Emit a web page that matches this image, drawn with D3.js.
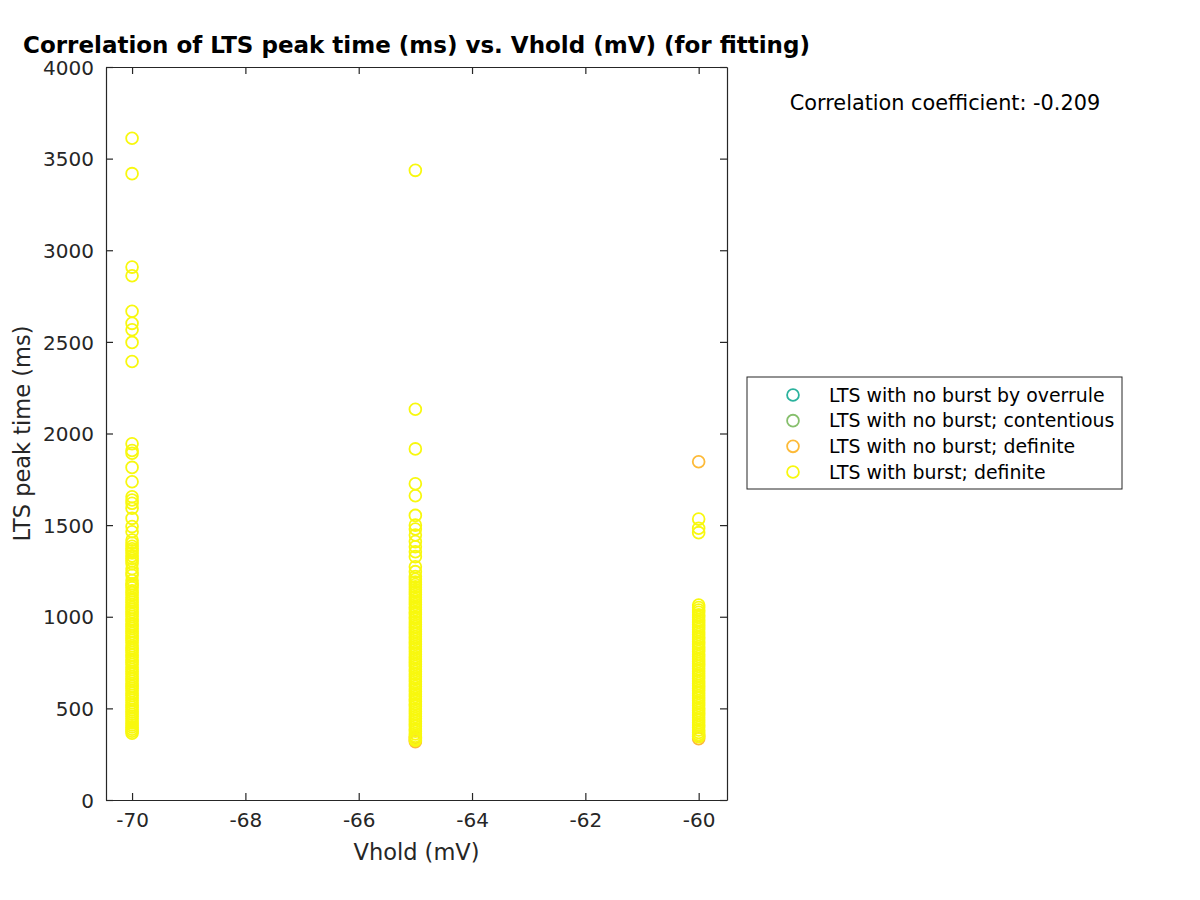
<!DOCTYPE html>
<html>
<head>
<meta charset="utf-8">
<script src="https://cdn.jsdelivr.net/npm/d3@7"></script>
<style>
  body { margin: 0; background: #fff; }
  text { font-family: "DejaVu Sans", sans-serif; }
</style>
</head>
<body>
<div id="chart"></div>
<script>
// LTS peak time vs holding potential

const seriesNames = [
  "LTS with no burst by overrule",
  "LTS with no burst; contentious",
  "LTS with no burst; definite",
  "LTS with burst; definite",
];
const seriesColors = ["#2bb29d", "#86bf6c", "#fdba38", "#f8f80e"];

const xTicks = [-70, -68, -66, -64, -62, -60];
const yTicks = [0, 500, 1000, 1500, 2000, 2500, 3000, 3500, 4000];

// peak times (ms) per series and Vhold
const overruleAt70 = [];
const overruleAt65 = [];
const overruleAt60 = [];
const contentiousAt70 = [];
const contentiousAt65 = [];
const contentiousAt60 = [];
const noBurstAt70 = [];
const noBurstAt65 = [318, 328, 341];
const noBurstAt60 = [1846, 334, 348];
const burstAt70 = [
  3611, 3418, 2908, 2861, 2667, 2601, 2566, 2497, 2393,
  1944, 1907, 1892, 1815, 1737, 1655, 1637, 1619, 1592, 1537, 1492, 1464, 1419,
  1402, 1385, 1371, 1360, 1348, 1332, 1318, 1305, 1290, 1262, 1241, 1226, 1198,
  1180, 1171, 1158, 1142, 1131, 1119, 1104, 1092, 1080, 1066, 1051, 1040, 1027,
  1013, 1001, 988, 975, 961, 948, 936, 921, 909, 896, 883, 871, 858, 842, 830,
  817, 805, 791, 778, 764, 752, 739, 725, 712, 700, 688, 673, 661, 648, 634, 621,
  609, 596, 583, 570, 557, 545, 531, 518, 506, 493, 481, 468, 455, 443, 431, 420,
  409, 398, 386, 375, 364,
];
const burstAt65 = [
  3436, 2132, 1916, 1726, 1660, 1553, 1500, 1479, 1446, 1410, 1382, 1355, 1328,
  1273, 1246, 1219, 1204, 1190, 1176, 1163, 1148, 1135, 1121, 1108, 1094, 1081,
  1067, 1053, 1040, 1026, 1013, 999, 986, 972, 958, 945, 931, 918, 904, 891, 877,
  863, 850, 836, 823, 809, 796, 782, 768, 755, 741, 728, 714, 701, 687, 673, 660,
  646, 633, 619, 606, 592, 578, 565, 551, 538, 524, 511, 497, 483, 470, 456, 443,
  429, 416, 402, 388, 375, 361, 348, 336, 327,
];
const burstAt60 = [
  1533, 1483, 1459,
  1064, 1050, 1037, 1024, 1010, 997, 983, 970, 957, 943, 930, 917, 903, 890, 877,
  863, 850, 836, 823, 810, 796, 783, 770, 756, 743, 730, 716, 703, 689, 676, 663,
  649, 636, 623, 609, 596, 583, 569, 556, 542, 529, 516, 502, 489, 476, 462, 449,
  436, 422, 409, 396, 382, 369, 357, 345,
];

const seriesData = [
  [[-70, overruleAt70], [-65, overruleAt65], [-60, overruleAt60]],
  [[-70, contentiousAt70], [-65, contentiousAt65], [-60, contentiousAt60]],
  [[-70, noBurstAt70], [-65, noBurstAt65], [-60, noBurstAt60]],
  [[-70, burstAt70], [-65, burstAt65], [-60, burstAt60]],
];

const correlationText = "Correlation coefficient: -0.209";
const titleText = "Correlation of LTS peak time (ms) vs. Vhold (mV) (for fitting)";

const width = 1200;
const height = 900;
const plot = { left: 106, right: 727, top: 67, bottom: 800 };
const axisColor = "#262626";
const fmt = (d) => String(d); // plain hyphen, no thousands separator

const svg = d3
  .select("#chart")
  .append("svg")
  .attr("width", width)
  .attr("height", height);

const x = d3.scaleLinear().domain([-70.46, -59.5]).range([plot.left, plot.right]);
const y = d3.scaleLinear().domain([0, 4000]).range([plot.bottom, plot.top]);

// points, drawn series by series so yellow sits on top
seriesData.forEach((groups, i) => {
  const pts = [];
  groups.forEach(([v, arr]) => arr.forEach((t) => pts.push([v, t])));
  svg
    .append("g")
    .selectAll("circle")
    .data(pts)
    .enter()
    .append("circle")
    .attr("cx", (d) => x(d[0]))
    .attr("cy", (d) => y(d[1]))
    .attr("r", 5.9)
    .attr("fill", "none")
    .attr("stroke", seriesColors[i])
    .attr("stroke-width", 1.8);
});

// axes with inward ticks, plus box
const tickLen = 7;
const bottomAxis = d3.axisBottom(x).tickValues(xTicks).tickSizeInner(-tickLen).tickSizeOuter(0).tickPadding(13).tickFormat(fmt);
const topAxis = d3.axisTop(x).tickValues(xTicks).tickSizeInner(-tickLen).tickSizeOuter(0).tickFormat("");
const leftAxis = d3.axisLeft(y).tickValues(yTicks).tickSizeInner(-tickLen).tickSizeOuter(0).tickPadding(12).tickFormat(fmt);
const rightAxis = d3.axisRight(y).tickValues(yTicks).tickSizeInner(-tickLen).tickSizeOuter(0).tickFormat("");

const gB = svg.append("g").attr("transform", `translate(0,${plot.bottom})`).call(bottomAxis);
const gT = svg.append("g").attr("transform", `translate(0,${plot.top})`).call(topAxis);
const gL = svg.append("g").attr("transform", `translate(${plot.left},0)`).call(leftAxis);
const gR = svg.append("g").attr("transform", `translate(${plot.right},0)`).call(rightAxis);

[gB, gT, gL, gR].forEach((g) => {
  g.selectAll("path.domain").attr("stroke", axisColor).attr("stroke-width", 1.2);
  g.selectAll(".tick line").attr("stroke", axisColor).attr("stroke-width", 1.2);
  g.selectAll(".tick text")
    .attr("fill", axisColor)
    .style("font-size", "20px")
    .style("font-family", "DejaVu Sans, sans-serif");
});
gL.selectAll(".tick text").attr("dy", "0.36em");

// titles
svg
  .append("text")
  .attr("x", (plot.left + plot.right) / 2)
  .attr("y", 53)
  .attr("text-anchor", "middle")
  .attr("font-size", 23)
  .attr("font-weight", "bold")
  .attr("fill", "#000")
  .text(titleText);

svg
  .append("text")
  .attr("x", (plot.left + plot.right) / 2)
  .attr("y", 860)
  .attr("text-anchor", "middle")
  .attr("font-size", 22.5)
  .attr("fill", axisColor)
  .text("Vhold (mV)");

svg
  .append("text")
  .attr("transform", `translate(30,${(plot.top + plot.bottom) / 2}) rotate(-90)`)
  .attr("text-anchor", "middle")
  .attr("font-size", 22.5)
  .attr("fill", axisColor)
  .text("LTS peak time (ms)");

svg
  .append("text")
  .attr("x", 945)
  .attr("y", 110)
  .attr("text-anchor", "middle")
  .attr("font-size", 20.8)
  .attr("fill", "#000")
  .text(correlationText);

// legend
const legend = svg.append("g").attr("transform", "translate(747,377)");
legend
  .append("rect")
  .attr("width", 375)
  .attr("height", 112)
  .attr("fill", "#fff")
  .attr("stroke", axisColor)
  .attr("stroke-width", 1);

const rowY = d3.scalePoint().domain(seriesNames).range([18, 95]);
const row = legend
  .selectAll("g.row")
  .data(seriesNames)
  .enter()
  .append("g")
  .attr("class", "row")
  .attr("transform", (d) => `translate(0,${rowY(d)})`);

row
  .append("circle")
  .attr("cx", 46)
  .attr("r", 5.9)
  .attr("fill", "none")
  .attr("stroke", (d, i) => seriesColors[i])
  .attr("stroke-width", 1.8);

row
  .append("text")
  .attr("x", 82)
  .attr("dy", "0.35em")
  .attr("font-size", 18.9)
  .attr("fill", "#000")
  .text((d) => d);
</script>
</body>
</html>
